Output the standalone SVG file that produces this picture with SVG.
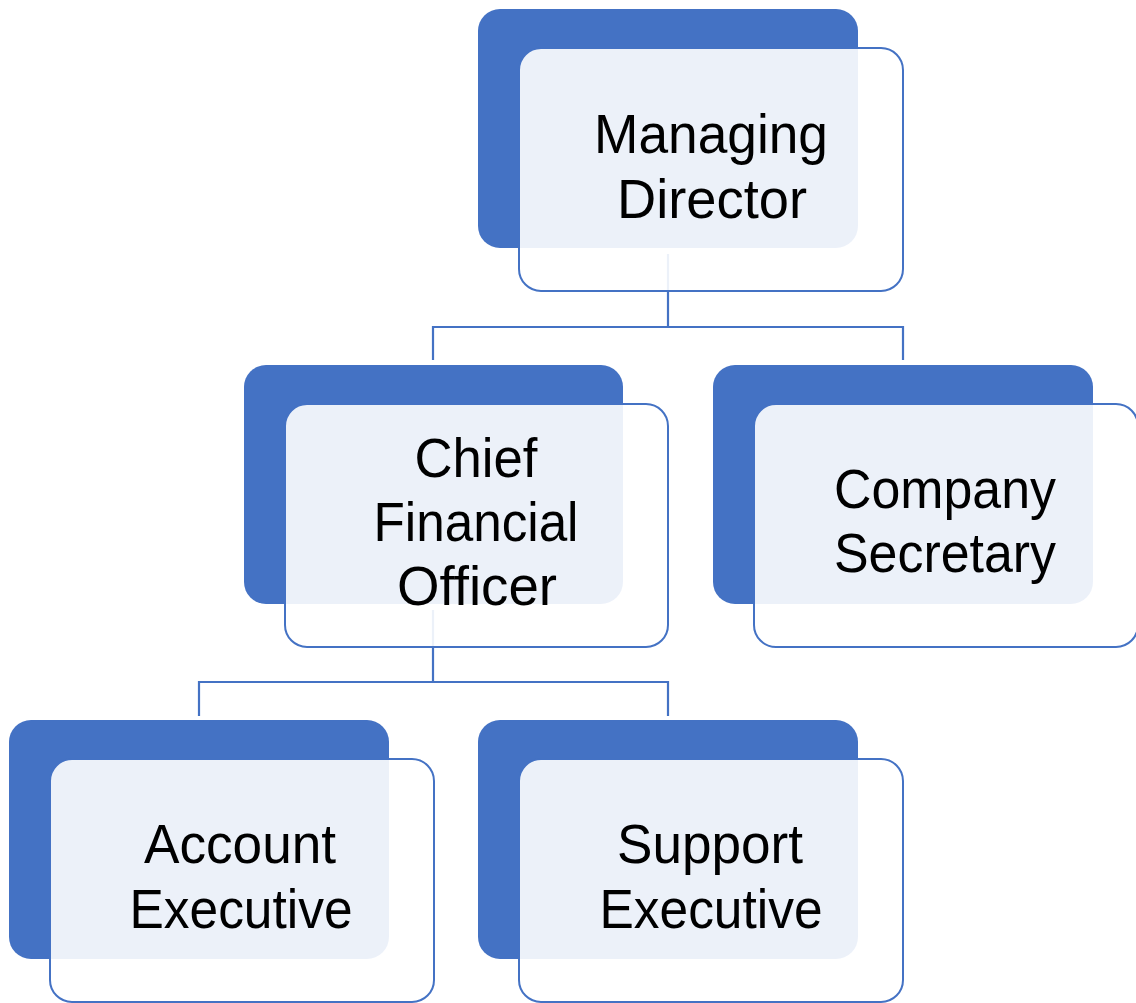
<svg xmlns="http://www.w3.org/2000/svg" width="1136" height="1003" viewBox="0 0 1136 1003">
<style>
.back{fill:#4472C4}
.front{fill:#FFFFFF;fill-opacity:0.9;stroke:#4472C4;stroke-width:2}
.conn{fill:none;stroke:#4472C4;stroke-width:2.2}
.lbl{font-family:"Liberation Sans",Arial,sans-serif;font-size:56px;fill:#000;text-anchor:middle}
</style>
<rect width="1136" height="1003" fill="#FFFFFF"/>
<g id="connectors">
<path class="conn" d="M668,254 V327 M433,360 V327 H903 V360"/>
<path class="conn" d="M433,610 V682 M199,716 V682 H668 V716"/>
</g>
<g id="managing-director">
<rect class="back" x="478" y="9" width="380" height="239" rx="22"/>
<rect class="front" x="519" y="48" width="384" height="243" rx="22"/>
<text class="lbl" x="711" y="153" textLength="234" lengthAdjust="spacingAndGlyphs">Managing</text>
<text class="lbl" x="712" y="218" textLength="190" lengthAdjust="spacingAndGlyphs">Director</text>
</g>
<g id="chief-financial-officer">
<rect class="back" x="244" y="365" width="379" height="239" rx="22"/>
<rect class="front" x="285" y="404" width="383" height="243" rx="22"/>
<text class="lbl" x="476" y="477" textLength="123" lengthAdjust="spacingAndGlyphs">Chief</text>
<text class="lbl" x="476" y="541" textLength="205" lengthAdjust="spacingAndGlyphs">Financial</text>
<text class="lbl" x="477" y="605" textLength="160" lengthAdjust="spacingAndGlyphs">Officer</text>
</g>
<g id="company-secretary">
<rect class="back" x="713" y="365" width="380" height="239" rx="22"/>
<rect class="front" x="754" y="404" width="384" height="243" rx="22"/>
<text class="lbl" x="945" y="508" textLength="222" lengthAdjust="spacingAndGlyphs">Company</text>
<text class="lbl" x="945" y="572" textLength="222" lengthAdjust="spacingAndGlyphs">Secretary</text>
</g>
<g id="account-executive">
<rect class="back" x="9" y="720" width="380" height="239" rx="22"/>
<rect class="front" x="50" y="759" width="384" height="243" rx="22"/>
<text class="lbl" x="240" y="863" textLength="192" lengthAdjust="spacingAndGlyphs">Account</text>
<text class="lbl" x="241" y="928" textLength="223" lengthAdjust="spacingAndGlyphs">Executive</text>
</g>
<g id="support-executive">
<rect class="back" x="478" y="720" width="380" height="239" rx="22"/>
<rect class="front" x="519" y="759" width="384" height="243" rx="22"/>
<text class="lbl" x="710" y="863" textLength="186" lengthAdjust="spacingAndGlyphs">Support</text>
<text class="lbl" x="711" y="928" textLength="223" lengthAdjust="spacingAndGlyphs">Executive</text>
</g>
</svg>
